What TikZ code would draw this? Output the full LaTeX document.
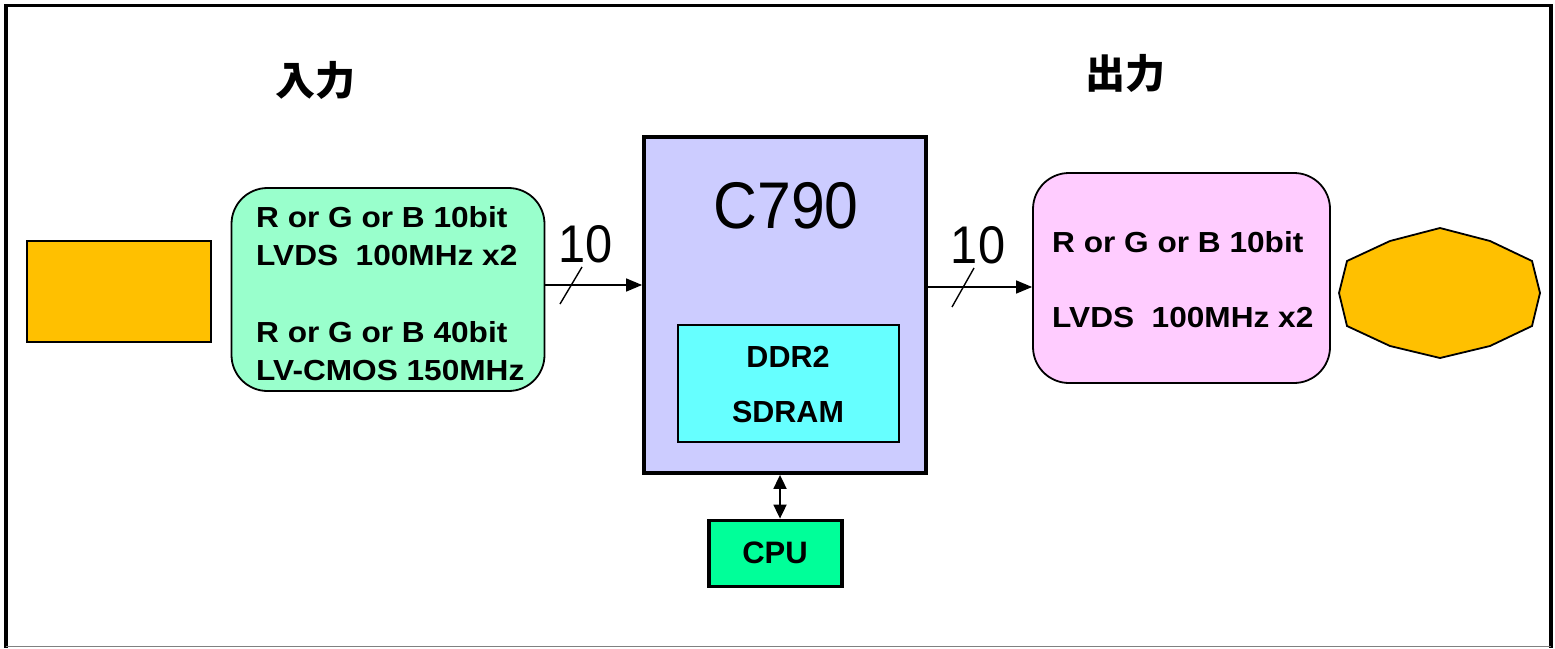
\documentclass[tikz,border=0pt]{standalone}
\usepackage{fontspec}
\setmainfont{Liberation Sans}
\newfontfamily\fwide[FakeStretch=1.09]{Liberation Sans}
\newfontfamily\fnar[FakeStretch=0.92]{Liberation Sans}
\newfontfamily\jp{Noto Sans CJK JP}
\usetikzlibrary{arrows.meta}
\definecolor{cOrange}{HTML}{FFC000}
\definecolor{cGreen}{HTML}{99FFCC}
\definecolor{cBlue}{HTML}{CCCCFF}
\definecolor{cCyan}{HTML}{66FFFF}
\definecolor{cCpu}{HTML}{00FF99}
\definecolor{cPink}{HTML}{FFCCFF}
\tikzset{
  box/.style={draw=black, rectangle, inner sep=0pt, line width=#1},
  box/.default=2pt,
  rbox/.style={draw=black, rectangle, rounded corners=36pt, inner sep=0pt, line width=1.8pt},
  lbl/.style={inner sep=0pt, font=\fwide\bfseries\fontsize{29}{32}\selectfont, anchor=base west},
  ddrtxt/.style={inner sep=0pt, font=\bfseries\fontsize{30.5}{34}\selectfont, anchor=base},
  big/.style={inner sep=0pt, font=\fnar\fontsize{53}{60}\selectfont, anchor=base},
  arr/.style={line width=1.5pt, -{Triangle[length=16pt,width=13pt]}},
  darr/.style={line width=1.8pt, {Triangle[length=14pt,width=13pt]}-{Triangle[length=14pt,width=13pt]}},
  slash/.style={line width=1.4pt},
  jtxt/.style={inner sep=0pt, font=\jp\bfseries\fontsize{40}{44}\selectfont},
}
\begin{document}
\begin{tikzpicture}[x=1pt,y=-1pt]
\useasboundingbox (0,0) rectangle (1555,648);
% frame
\draw[line width=3.5pt, line cap=rect] (6,646) -- (6,5.5) -- (1551,5.5) -- (1551,646);
\draw[line width=1.5pt, gray] (6,646.5) -- (1551,646.5);

% titles
\node[jtxt] (tin) at (315,80) {入力};
\node[jtxt] (tout) at (1125,73) {出力};

% left source
\node[box=2.4pt, fill=cOrange, minimum width=184pt, minimum height=101pt] (src) at (119,291.5) {};

% green input box
\node[rbox, fill=cGreen, minimum width=313pt, minimum height=203pt] (gin) at (388,289.5) {};
\node[lbl] (g1) at (256,227) {R or G or B 10bit};
\node[lbl] (g2) at (256,265) {LVDS\ \ 100MHz x2};
\node[lbl] (g3) at (256,342) {R or G or B 40bit};
\node[lbl] (g4) at (256,380) {LV-CMOS 150MHz};

% C790
\node[box=3.8pt, fill=cBlue, minimum width=282pt, minimum height=336pt] (chip) at (785,305) {};
\node[inner sep=0pt, font=\fnar\fontsize{66}{70}\selectfont, anchor=base] (chipname) at (786,228) {C790};
\node[box=1.8pt, fill=cCyan, minimum width=221pt, minimum height=117pt] (ddr) at (788.5,383.5) {};
\node[ddrtxt] (ddr1) at (788,367) {DDR2};
\node[ddrtxt] (ddr2) at (788,422) {SDRAM};

% CPU
\node[box=3.8pt, fill=cCpu, minimum width=133pt, minimum height=66pt] (cpu) at (775.5,553.5) {};
\node[inner sep=0pt, font=\bfseries\fontsize{31}{34}\selectfont, anchor=base] (cputxt) at (775,563) {CPU};

% pink output box
\node[rbox, fill=cPink, minimum width=297pt, minimum height=210pt] (pout) at (1181.5,278) {};
\node[lbl] (p1) at (1052,252) {R or G or B 10bit};
\node[lbl] (p2) at (1052,327) {LVDS\ \ 100MHz x2};

% display (12-gon)
\draw[fill=cOrange, line width=1.8pt, line join=miter]
  (1440,228) -- (1390,241) -- (1347,261) -- (1339,293) -- (1347,326) -- (1390,346)
  -- (1440,358) -- (1490,346) -- (1532,326) -- (1540,293) -- (1532,261) -- (1490,241) -- cycle;
\coordinate (disp) at (1440,293);

% connectors
\coordinate (y1) at (0,285);
\coordinate (y2) at (0,287);
\draw[arr] (gin.east |- y1) -- (chip.west |- y1);
\draw[slash] (560,304) -- (582,267);
\node[big] (n1) at (586,262) {10};
\draw[arr] (chip.east |- y2) -- (pout.west |- y2);
\draw[slash] (952,307) -- (974,268);
\node[big] (n2) at (978,263) {10};
\coordinate (x1) at (780,0);
\draw[darr] (chip.south -| x1) -- (cpu.north -| x1);
\end{tikzpicture}
\end{document}
